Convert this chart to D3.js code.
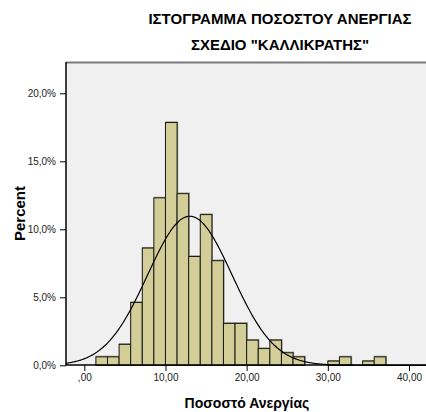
<!DOCTYPE html>
<html>
<head>
<meta charset="utf-8">
<script src="https://cdn.jsdelivr.net/npm/d3@7"></script>
<style>
  html, body { margin: 0; padding: 0; background: #fff; }
  svg { display: block; font-family: "Liberation Sans", Arial, sans-serif; }
</style>
</head>
<body>
<svg id="chart" width="426" height="412"></svg>
<script>
// Histogram of unemployment rate across the 325 municipalities
const titleLines = ["ΙΣΤΟΓΡΑΜΜΑ ΠΟΣΟΣΤΟΥ ΑΝΕΡΓΙΑΣ", "ΣΧΕΔΙΟ \"ΚΑΛΛΙΚΡΑΤΗΣ\""];
const xTitle = "Ποσοστό Ανεργίας";
const yTitle = "Percent";

// bin width of 10/7 units, first bin starts at 10/7
const binWidth = 10 / 7;
const binStart = 10 / 7;
// percent of municipalities in each bin
const binPercents = [0.62, 0.62, 1.54, 4.62, 8.62, 12.31, 17.85, 12.62, 8.00, 11.08,
                     7.69, 3.08, 3.08, 1.85, 1.23, 1.85, 0.92, 0.62, 0, 0,
                     0.31, 0.62, 0, 0.31, 0.62];

// fitted normal curve
const curveMean = 13.0;
const curveStd = 5.2;

const xTicks = [0, 10, 20, 30, 40];
const xTickLabels = [",00", "10,00", "20,00", "30,00", "40,00"];
const yTicks = [0, 5, 10, 15, 20];
const yTickLabels = ["0,0%", "5,0%", "10,0%", "15,0%", "20,0%"];

const svg = d3.select("#chart");
const plot = { left: 66, right: 426, top: 62, bottom: 365 };

const x = d3.scaleLinear().domain([0, 40]).range([84.3, 409]);
const y = d3.scaleLinear().domain([0, 20]).range([365.3, 93.3]);

// plot background
svg.append("rect")
  .attr("x", plot.left).attr("y", plot.top)
  .attr("width", plot.right - plot.left).attr("height", plot.bottom - plot.top)
  .attr("fill", "#f0f0f0");
svg.append("line")
  .attr("x1", plot.left).attr("x2", plot.right)
  .attr("y1", plot.top + 0.5).attr("y2", plot.top + 0.5)
  .attr("stroke", "#7a7a7a").attr("stroke-width", 2);

// bars
const bins = binPercents.map((v, i) => ({ x0: binStart + i * binWidth, x1: binStart + (i + 1) * binWidth, v }))
  .filter(d => d.v > 0);

svg.append("g").selectAll("rect.shadow").data(bins).join("rect")
  .attr("x", d => x(d.x0) + 0.5)
  .attr("y", d => y(d.v) - 0.5)
  .attr("width", d => x(d.x1) - x(d.x0))
  .attr("height", d => y(0) - y(d.v))
  .attr("fill", "none")
  .attr("stroke", "#8a8a7a").attr("stroke-width", 1.2);

svg.append("g").selectAll("rect.bar").data(bins).join("rect")
  .attr("x", d => x(d.x0))
  .attr("y", d => y(d.v))
  .attr("width", d => x(d.x1) - x(d.x0))
  .attr("height", d => y(0) - y(d.v))
  .attr("fill", "#d3ce97")
  .attr("stroke", "#1a1a1a").attr("stroke-width", 1);

// normal curve, scaled to percent per bin
const xMin = x.invert(plot.left), xMax = x.invert(plot.right);
const curvePts = d3.range(xMin, xMax, 0.1).concat([xMax]).map(t => {
  const z = (t - curveMean) / curveStd;
  return [t, 100 * binWidth * Math.exp(-0.5 * z * z) / (curveStd * Math.sqrt(2 * Math.PI))];
});
svg.append("path")
  .datum(curvePts)
  .attr("d", d3.line().x(d => x(d[0])).y(d => y(d[1])).curve(d3.curveBasis))
  .attr("fill", "none").attr("stroke", "#000").attr("stroke-width", 1.2);

// axes
const yAxis = d3.axisLeft(y).tickValues(yTicks).tickFormat((d, i) => yTickLabels[i]).tickSize(6).tickSizeOuter(0);
const gy = svg.append("g").attr("transform", `translate(${plot.left},0)`).call(yAxis);
gy.select(".domain").remove();
svg.append("line").attr("x1", plot.left).attr("x2", plot.left)
  .attr("y1", plot.top).attr("y2", plot.bottom + 0.5).attr("stroke", "#000").attr("stroke-width", 1.5);

const xAxis = d3.axisBottom(x).tickValues(xTicks).tickFormat((d, i) => xTickLabels[i]).tickSize(6).tickSizeOuter(0);
const gx = svg.append("g").attr("transform", `translate(0,${plot.bottom})`).call(xAxis);
gx.select(".domain").remove();
svg.append("line").attr("x1", plot.left).attr("x2", plot.right)
  .attr("y1", plot.bottom).attr("y2", plot.bottom).attr("stroke", "#000").attr("stroke-width", 1.5);

[gx, gy].forEach(g => {
  g.selectAll("text").attr("font-size", 10).attr("fill", "#222")
    .attr("font-family", "'Liberation Sans', Arial, sans-serif");
  g.selectAll("line").attr("stroke", "#000");
});
gy.selectAll("text").attr("dx", "-1");

// titles
svg.append("g").selectAll("text").data(titleLines).join("text")
  .attr("x", 280).attr("y", (d, i) => 24 + i * 26)
  .attr("text-anchor", "middle")
  .attr("font-size", 15).attr("font-weight", "bold").attr("fill", "#000")
  .text(d => d);

svg.append("text")
  .attr("x", 247).attr("y", 408)
  .attr("text-anchor", "middle")
  .attr("font-size", 14).attr("font-weight", "bold").attr("fill", "#000")
  .text(xTitle);

svg.append("text")
  .attr("transform", `translate(25,${(plot.top + plot.bottom) / 2}) rotate(-90)`)
  .attr("text-anchor", "middle")
  .attr("font-size", 15).attr("font-weight", "bold").attr("fill", "#000")
  .text(yTitle);
</script>
</body>
</html>
